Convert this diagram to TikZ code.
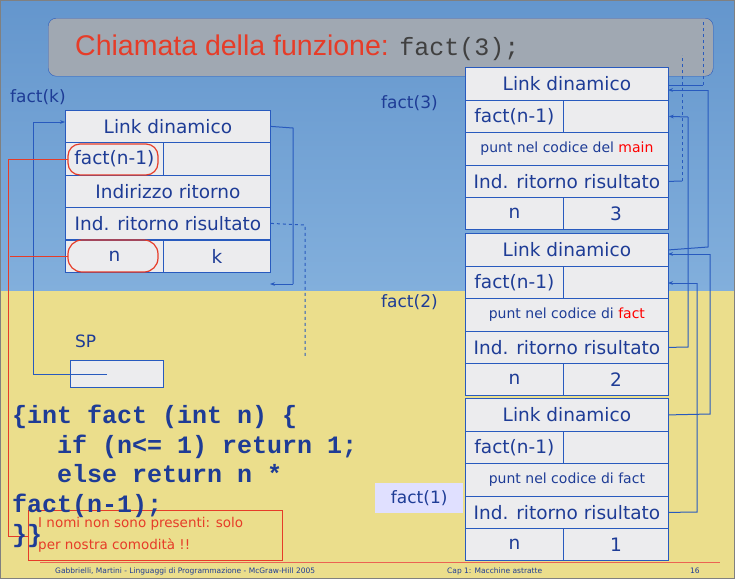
\documentclass[tikz,border=0pt]{standalone}
\usepackage{fontspec}
\setmainfont{DejaVu Sans}
\newfontfamily\codefont{Liberation Mono}
\newfontfamily\titlefont{Liberation Sans}
\usetikzlibrary{arrows.meta}
\definecolor{dblue}{RGB}{30,60,150}
\definecolor{lblue}{RGB}{40,90,190}
\definecolor{bgtop}{RGB}{100,150,205}
\definecolor{bgblue}{RGB}{130,175,220}
\definecolor{bgyel}{RGB}{235,222,140}
\definecolor{cell}{RGB}{236,236,238}
\definecolor{rred}{RGB}{230,60,40}
\definecolor{tgray}{RGB}{160,168,178}
\begin{document}
\begin{tikzpicture}[x=1pt,y=-1pt,
  cellst/.style={draw=lblue,fill=cell,line width=0.8pt},
  txt/.style={text=dblue,font=\fontsize{18.5}{18.5}\selectfont},
  small/.style={text=dblue,font=\fontsize{14}{14}\selectfont},
  lbl/.style={text=dblue,font=\fontsize{17}{17}\selectfont},
  con/.style={draw=lblue,line width=1pt},
  arr/.style={con,-{Stealth[length=5pt]}},
  dsh/.style={con,dashed}]
\useasboundingbox (0,0) rectangle (735,579);
\fill[bgyel] (0,285) rectangle (735,579);
\shade[top color=bgtop, bottom color=bgblue] (0,0) rectangle (735,290);
\draw[gray,line width=1pt] (0.5,0.5) rectangle (734.5,578.5);
% title
\node[draw=lblue,fill=tgray,rounded corners=8pt,minimum width=665pt,minimum height=58pt,anchor=north west] (title) at (48,18) {};
\node[anchor=west,inner sep=0] (ttl) at (75,48) {\titlefont\fontsize{28.5}{28.5}\selectfont\color{rred}Chiamata della funzione: \codefont\fontsize{25}{25}\selectfont\color{black!75}fact(3);};
% left frame
\foreach \n/\y/\t in {la/110/Link dinamico,lc/175/Indirizzo ritorno,ld/207/Ind. ritorno risultato}{
  \node[cellst,txt,minimum width=205pt,minimum height=32pt,anchor=north west,inner sep=0] (\n) at (65,\y) {\t};}
\node[cellst,txt,minimum width=98pt,minimum height=33pt,anchor=north west,inner sep=0] (lb1) at (65,142) {fact(n-1)};
\node[cellst,minimum width=107pt,minimum height=33pt,anchor=north west] (lb2) at (163,142) {};
\node[cellst,txt,minimum width=98pt,minimum height=32pt,anchor=north west,inner sep=0] (le1) at (65,240) {n};
\node[cellst,txt,minimum width=107pt,minimum height=32pt,anchor=north west,inner sep=0] (le2) at (163,240) {k};
\node[lbl,anchor=west,inner sep=0] (fk) at (10,97) {fact(k)};
\node[lbl,anchor=west,inner sep=0] (sp) at (75,341) {SP};
\node[draw=lblue,fill=cell,minimum width=93pt,minimum height=27pt,anchor=north west] (spb) at (70,360) {};
\coordinate (spc) at (107,374);
\draw[con] (spc) -- (33,374) -- (33,122);
\draw[arr] (33,122) -- (65,122);
\draw[con] (la.east) -- (293,128) -- (293,284);
\draw[arr] (293,284) -- (270,284);
\draw[dsh] (ld.east) -- (305,225) -- (305,358);
% red
\draw[rred,line width=1.2pt,rounded corners=12pt] (68,144) rectangle (158,175);
\draw[rred,line width=1.2pt,rounded corners=14pt] (68,240) rectangle (158,272);
\draw[rred,line width=1pt] (68,159) -- (8,159) -- (8,536) -- (28,536);
\draw[rred,line width=1pt] (68,256) -- (10,256);
\node[draw=rred,line width=1pt,minimum width=254pt,minimum height=50pt,anchor=north west,inner sep=2pt] (note) at (28,510) {};
\node[anchor=north west,align=left,text=rred,font=\fontsize{13.5}{22}\selectfont,inner sep=0] (notet) at (38,517) {I nomi non sono presenti: solo\\per nostra comodità !!};
% code
\node[anchor=north west,align=left,inner sep=0,text=dblue,font=\codefont\bfseries\fontsize{25}{29.6}\selectfont] (code) at (12,405) {\{int fact (int n) \{\\\ \ \ if (n<= 1) return 1;\\\ \ \ else return n *\\fact(n-1);\\\}\}};
% right frames
\foreach \f/\y/\pt in {3/67/{punt nel codice del \textcolor{red}{main}},2/233/{punt nel codice di \textcolor{red}{fact}},1/398/{punt nel codice di fact}}{
  \node[cellst,txt,minimum width=203pt,minimum height=33pt,anchor=north west,inner sep=0] (a\f) at (465,\y) {Link dinamico};
  \node[cellst,txt,minimum width=98pt,minimum height=32pt,anchor=north west,inner sep=0] (b\f) at (465,\y+33) {fact(n-1)};
  \node[cellst,minimum width=105pt,minimum height=32pt,anchor=north west] (bb\f) at (563,\y+33) {};
  \node[cellst,small,minimum width=203pt,minimum height=33pt,anchor=north west,inner sep=0] (c\f) at (465,\y+65) {\pt};
  \node[cellst,txt,minimum width=203pt,minimum height=32pt,anchor=north west,inner sep=0] (d\f) at (465,\y+98) {Ind. ritorno risultato};
  \node[cellst,txt,minimum width=98pt,minimum height=32pt,anchor=north west,inner sep=0] (e\f) at (465,\y+130) {n};
  \node[cellst,txt,minimum width=105pt,minimum height=32pt,anchor=north west,inner sep=0] (ee\f) at (563,\y+130) {\f};
}
\node[lbl,anchor=west,inner sep=0] (f3) at (381,103) {fact(3)};
\node[lbl,anchor=west,inner sep=0] (f2) at (381,302) {fact(2)};
\node[lbl,fill=white!88!blue,anchor=north west,minimum width=88pt,minimum height=30pt,inner sep=0] (f1) at (375,483) {fact(1)};
% right connectors
\draw[con] (668,85) -- (703,85); \draw[dsh] (703,85) -- (703,22);
\draw[con] (d3.east) -- (682,181); \draw[dsh] (682,181) -- (682,55);
\draw[con] (a2.east) -- (708,247) -- (708,90); \draw[arr] (708,90) -- (668,90);
\draw[con] (d2.east) -- (688,347) -- (688,117); \draw[arr] (688,117) -- (bb3.east);
\draw[con] (a1.east) -- (710,414) -- (710,254); \draw[arr] (710,254) -- (668,254);
\draw[con] (d1.east) -- (697,512) -- (697,283); \draw[arr] (697,283) -- (668,283);
% footer
\draw[rred!80,line width=0.8pt] (40,562) -- (720,562);
\node[text=dblue,font=\fontsize{7.5}{8}\selectfont,anchor=west,inner sep=0] (ft1) at (55,571) {Gabbrielli, Martini - Linguaggi di Programmazione - McGraw-Hill 2005};
\node[text=dblue,font=\fontsize{7.5}{8}\selectfont,anchor=west,inner sep=0] (ft2) at (447,571) {Cap 1: Macchine astratte};
\node[text=dblue,font=\fontsize{7.5}{8}\selectfont,anchor=west,inner sep=0] (ft3) at (690,571) {16};
\end{tikzpicture}
\end{document}
